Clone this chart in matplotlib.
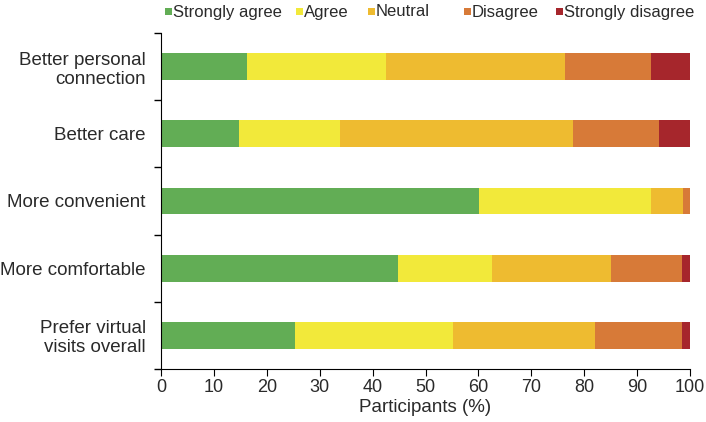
import matplotlib
matplotlib.use("Agg")
import matplotlib.pyplot as plt
import numpy as np
from matplotlib.patches import Rectangle

plt.rcParams['font.family'] = ['Liberation Sans', 'DejaVu Sans']

categories = ["Better personal\nconnection", "Better care", "More convenient",
              "More comfortable", "Prefer virtual\nvisits overall"]
responses = ["Strongly agree", "Agree", "Neutral", "Disagree", "Strongly disagree"]
strongly_agree = [16.2, 14.7, 60.2, 44.8, 25.3]
agree = [26.4, 19.1, 32.4, 17.8, 29.9]
neutral = [33.8, 44.1, 6.0, 22.5, 26.9]
disagree = [16.2, 16.2, 1.4, 13.4, 16.4]
strongly_disagree = [7.4, 5.9, 0.0, 1.5, 1.5]
colors = ["#62AD55", "#F2E93A", "#EEBB30", "#D77A38", "#A6262C"]

series = [strongly_agree, agree, neutral, disagree, strongly_disagree]

W, H = 706, 422
fig = plt.figure(figsize=(W / 100, H / 100), dpi=100)
ax = fig.add_axes([161 / W, 53 / H, (690 - 161) / W, (369 - 33) / H])

y = np.arange(len(categories))
left = np.zeros(len(categories))
for vals, col, name in zip(series, colors, responses):
    ax.barh(y, vals, left=left, height=0.4, color=col, label=name, edgecolor='none')
    left += np.array(vals)

txt = '#2a2a2a'
fs = 13.5
ax.set_xlim(0, 100)
ax.set_ylim(len(categories) - 0.5, -0.5)
ax.set_xticks(np.arange(0, 101, 10))
ax.set_yticks(y)
ax.set_yticklabels(categories, fontsize=fs, color=txt, linespacing=1.15)
ax.set_yticks(np.arange(-0.5, len(categories)), minor=True)
ax.tick_params(axis='y', which='major', length=0, pad=11)
ax.tick_params(axis='y', which='minor', length=5, direction='out', width=1)
ax.tick_params(axis='x', labelsize=13, length=5, labelcolor=txt, pad=2)
for s in ['top', 'right']:
    ax.spines[s].set_visible(False)
ax.set_xlabel("Participants (%)", fontsize=fs, color=txt, labelpad=2)

# legend drawn manually to match the reference spacing
sq_x = [165, 296, 368, 464, 556]
for xpix, col, name in zip(sq_x, colors, responses):
    fig.patches.append(Rectangle((xpix / W, 1 - 15 / H), 7 / W, 7 / H,
                                 transform=fig.transFigure, facecolor=col,
                                 edgecolor='none'))
    fig.text((xpix + 8) / W, 1 - 12 / H, name, fontsize=12, color=txt,
             va='center', ha='left')

fig.savefig("out.png", dpi=100)
